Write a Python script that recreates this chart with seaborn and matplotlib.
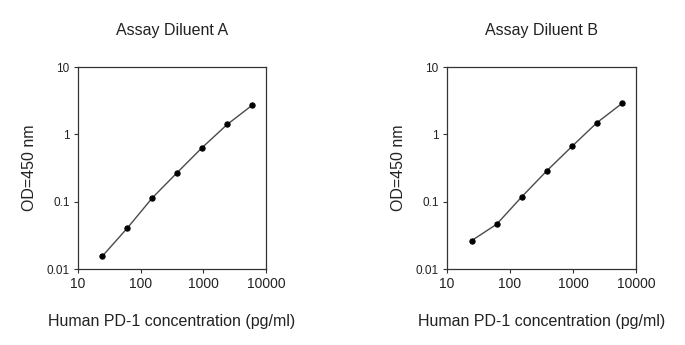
import matplotlib
matplotlib.use("Agg")
import matplotlib.pyplot as plt
import matplotlib.ticker as mticker
import numpy as np
import pandas as pd
import seaborn as sns

# Standard curve: 2.5-fold serial dilution of human PD-1
concentration = [24.6, 61.4, 153.6, 384, 960, 2400, 6000]
od_diluent_a = [0.0156, 0.0406, 0.114, 0.271, 0.637, 1.40, 2.70]
od_diluent_b = [0.0264, 0.0462, 0.118, 0.287, 0.66, 1.49, 2.88]
panel_titles = ["Assay Diluent A", "Assay Diluent B"]
x_ticks = [10, 100, 1000, 10000]
y_ticks = [0.01, 0.1, 1, 10]
x_label = "Human PD-1 concentration (pg/ml)"
y_label = "OD=450 nm"

sns.set_theme(style="ticks")
plt.rcParams["font.family"] = ["Liberation Sans", "DejaVu Sans"]

fig = plt.figure(figsize=(6.85, 3.45), dpi=100)
axes_boxes = [
    [78 / 685, 76 / 345, 188 / 685, 202 / 345],
    [447 / 685, 76 / 345, 189 / 685, 202 / 345],
]

for box, title, od in zip(axes_boxes, panel_titles, [od_diluent_a, od_diluent_b]):
    ax = fig.add_axes(box)
    df = pd.DataFrame({"conc": concentration, "od": od})
    sns.lineplot(data=df, x="conc", y="od", ax=ax, color="#4a4a4a",
                 linewidth=1.0, marker="o", markersize=3.8,
                 markerfacecolor="black", markeredgecolor="black")
    ax.set_xscale("log")
    ax.set_yscale("log")
    ax.set_xlim(10, 10000)
    ax.set_ylim(0.01, 10)
    ax.set_xticks(x_ticks)
    ax.set_yticks(y_ticks)
    ax.xaxis.set_major_formatter(mticker.FuncFormatter(lambda v, p: f"{v:g}"))
    ax.yaxis.set_major_formatter(mticker.FuncFormatter(lambda v, p: f"{v:g}"))
    ax.xaxis.set_minor_locator(mticker.NullLocator())
    ax.yaxis.set_minor_locator(mticker.NullLocator())
    ax.tick_params(axis="both", which="major", direction="out", length=3,
                   width=0.8, color="#333333", pad=3, labelcolor="#222222")
    ax.tick_params(axis="x", labelsize=10)
    ax.tick_params(axis="y", labelsize=8.5)
    for s in ax.spines.values():
        s.set_visible(True)
        s.set_linewidth(0.9)
        s.set_color("#333333")
    ax.set_title(title, fontsize=11.5, color="#222222", pad=23)
    ax.set_xlabel(x_label, fontsize=11.5, color="#222222", labelpad=16)
    ax.set_ylabel(y_label, fontsize=11.5, color="#222222", labelpad=7)

fig.savefig("out.png", dpi=100, facecolor="white")
